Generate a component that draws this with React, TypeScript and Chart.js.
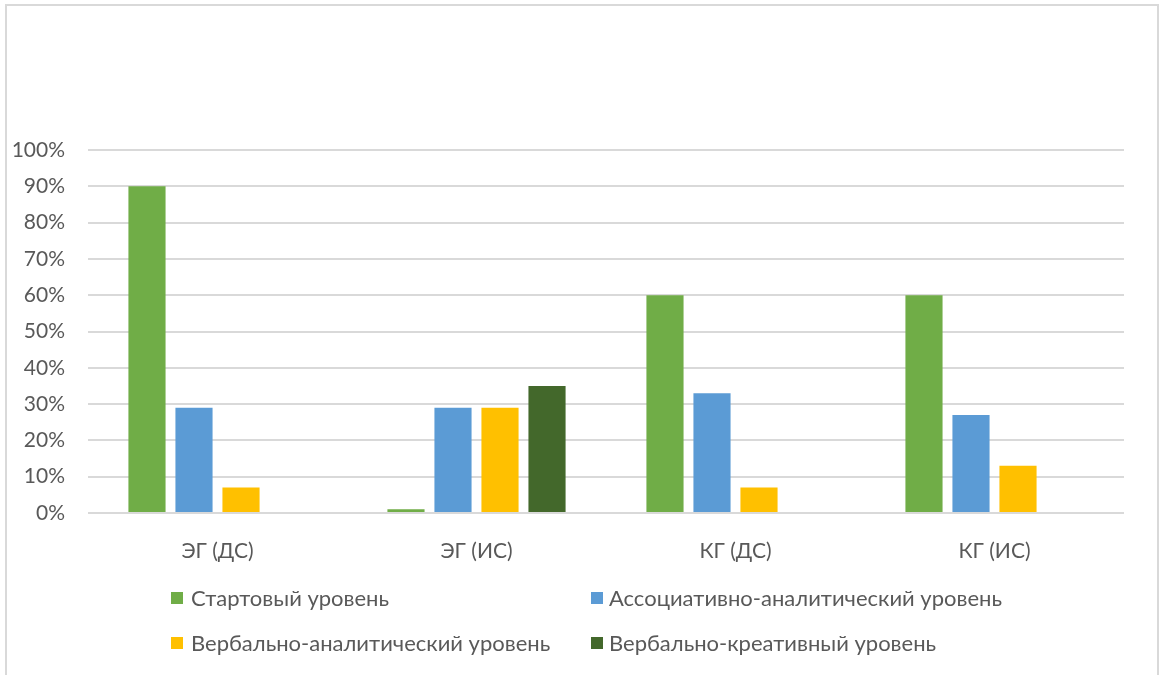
import React, { useEffect, useRef } from "react";
import { Chart, registerables } from "chart.js";

Chart.register(...registerables);

const categories = ["ЭГ (ДС)", "ЭГ (ИС)", "КГ (ДС)", "КГ (ИС)"];
const seriesNames = [
  "Стартовый уровень",
  "Ассоциативно-аналитический уровень",
  "Вербально-аналитический уровень",
  "Вербально-креативный уровень",
];
const startLevel = [90, 1, 60, 60];
const assocLevel = [29, 29, 33, 27];
const verbAnalLevel = [7, 29, 7, 13];
const verbCreatLevel = [0, 35, 0, 0];
const seriesColors = ["#70AD47", "#5B9BD5", "#FFC000", "#43682B"];
const yTicks = [0, 10, 20, 30, 40, 50, 60, 70, 80, 90, 100];

const FONT = "Lato, 'Liberation Sans', sans-serif";
const TEXT = "#595959";

export default function App() {
  const ref = useRef<HTMLCanvasElement | null>(null);

  useEffect(() => {
    if (!ref.current) return;
    const values = [startLevel, assocLevel, verbAnalLevel, verbCreatLevel];
    const chart = new Chart(ref.current, {
      type: "bar",
      data: {
        labels: categories,
        datasets: values.map((v, i) => ({
          label: seriesNames[i],
          data: v,
          backgroundColor: seriesColors[i],
          borderWidth: 0,
          categoryPercentage: 0.726,
          barPercentage: 0.79,
        })),
      },
      options: {
        responsive: false,
        animation: false,
        layout: { padding: { top: 150, right: 36, left: 0, bottom: 0 } },
        plugins: {
          legend: { display: false },
          tooltip: { enabled: false },
        },
        scales: {
          x: {
            grid: { display: false },
            border: { display: false },
            ticks: {
              color: TEXT,
              font: { family: FONT, size: 21 },
              padding: 18,
            },
            afterFit: (s: any) => {
              s.height = 162;
            },
          },
          y: {
            min: 0,
            max: 100,
            afterBuildTicks: (s: any) => {
              s.ticks = yTicks.map((v) => ({ value: v }));
            },
            grid: { color: "#d9d9d9", lineWidth: 2, drawTicks: false },
            border: { display: false },
            ticks: {
              color: TEXT,
              font: { family: FONT, size: 21 },
              padding: 23,
              callback: (v: any) => v + "%",
            },
            afterFit: (s: any) => {
              s.width = 88;
            },
          },
        },
      },
    });
    return () => chart.destroy();
  }, []);

  const boxLeft = [171, 591];
  const textLeft = [191, 609];
  const legendRows = [598, 643];

  return (
    <div
      style={{
        position: "fixed",
        left: 0,
        top: 0,
        width: 1160,
        height: 675,
        background: "#fff",
        overflow: "hidden",
      }}
    >
      <div
        style={{
          position: "absolute",
          left: 5,
          top: 4,
          width: 1154,
          height: 720,
          border: "2px solid #d9d9d9",
          boxSizing: "border-box",
        }}
      />
      <canvas
        ref={ref}
        width={1160}
        height={675}
        style={{ position: "absolute", left: 0, top: 0, width: 1160, height: 675 }}
      />
      {seriesNames.map((name, i) => {
        const col = i % 2;
        const cy = legendRows[Math.floor(i / 2)];
        return (
          <React.Fragment key={name}>
            <span
              style={{
                position: "absolute",
                left: boxLeft[col],
                top: cy - 6,
                width: 12,
                height: 12,
                background: seriesColors[i],
              }}
            />
            <span
              style={{
                position: "absolute",
                left: textLeft[col],
                top: cy - 15,
                height: 30,
                lineHeight: "30px",
                fontFamily: FONT,
                fontSize: 22,
                color: TEXT,
                whiteSpace: "nowrap",
              }}
            >
              {name}
            </span>
          </React.Fragment>
        );
      })}
    </div>
  );
}
